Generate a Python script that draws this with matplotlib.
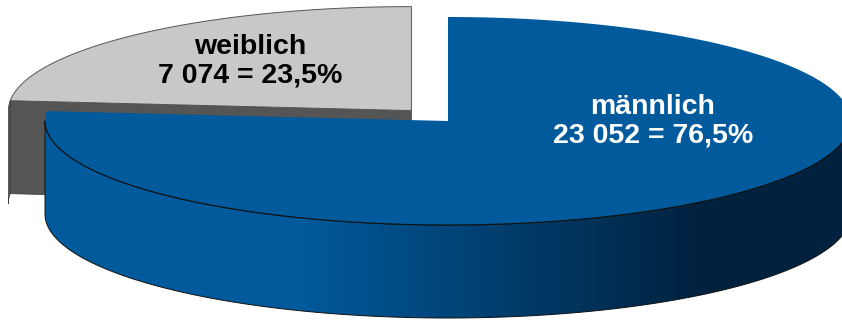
import numpy as np
import matplotlib.pyplot as plt
from matplotlib.patches import Polygon
from matplotlib.colors import to_rgb

labels = ["männlich", "weiblich"]
counts = [23052, 7074]
pct_text = ["76,5%", "23,5%"]
count_text = ["23 052", "7 074"]

top_colors = ["#005a9c", "#c8c8c8"]
side_colors = ["#005a9c", "#555555"]
side_dark = "#00223f"
text_colors = ["white", "black"]

# geometry of the 3D pie (pixel units)
cx, cy = 448, 121
a, b = 403, 104
depth = 93
explode = [0.0, 0.135]

fig = plt.figure(figsize=(8.42, 3.2), dpi=100)
ax = fig.add_axes([0, 0, 1, 1])
ax.axis('off')

total = sum(counts)
sweeps = [360.0 * c / total for c in counts]
# slices go clockwise starting at 12 o'clock
starts = [90.0]
for s in sweeps[:-1]:
    starts.append(starts[-1] - s)


def pt(x0, y0, t, dz=0):
    t = np.radians(t)
    return x0 + a * np.cos(t), y0 - b * np.sin(t) + dz


def arc(x0, y0, t1, t2, dz=0, n=200):
    ts = np.linspace(t1, t2, n)
    xs, ys = pt(x0, y0, ts, dz)
    return np.column_stack([xs, ys])


centers = []
for i, (st, sw) in enumerate(zip(starts, sweeps)):
    mid = np.radians(st - sw / 2)
    centers.append((cx + a * explode[i] * np.cos(mid), cy - b * explode[i] * np.sin(mid)))

# grey slice (back, drawn first): 90 deg -> counter-clockwise
gx, gy = centers[1]
g1, g2 = 90.0, 90.0 + sweeps[1]
end = pt(gx, gy, g2)
face = np.array([[gx, gy], end, [end[0], end[1] + depth], [gx, gy + depth]])
ax.add_patch(Polygon(face, closed=True, fc=side_colors[1], ec="#3a3a3a", lw=0.5))
outer = np.vstack([arc(gx, gy, g2, 180), arc(gx, gy, 180, g2, depth)])
ax.add_patch(Polygon(outer, closed=True, fc=side_colors[1], ec="#3a3a3a", lw=0.5))
top = np.vstack([[gx, gy], arc(gx, gy, g1, g2), [gx, gy]])
ax.add_patch(Polygon(top, closed=True, fc=top_colors[1], ec="#555555", lw=0.7))

# blue slice
bx, by = centers[0]
b1, b2 = starts[0], starts[0] - sweeps[0]
side = np.vstack([arc(bx, by, 180, 360), arc(bx, by, 360, 180, depth)])
side_patch = Polygon(side, closed=True, fc="none", ec="#111111", lw=0.7, zorder=2)
ax.add_patch(side_patch)
xs = np.linspace(bx - a, bx + a, 400)
tt = np.clip((xs - 300) / 400, 0, 1)
c0 = np.array(to_rgb(side_colors[0]))
c1 = np.array(to_rgb(side_dark))
grad = (c0[None, :] * (1 - tt[:, None]) + c1[None, :] * tt[:, None])[None, :, :]
im = ax.imshow(grad, extent=[bx - a, bx + a, by + b + depth + 2, by - 2],
               aspect='auto', zorder=1)
im.set_clip_path(side_patch)

top = np.vstack([[bx, by], arc(bx, by, b1, b2, n=600), [bx, by]])
ax.add_patch(Polygon(top, closed=True, fc=top_colors[0], ec="none", zorder=3))
front = arc(bx, by, 180, 360)
ax.plot(front[:, 0], front[:, 1], color="#111111", lw=0.8, zorder=4)

# labels
label_pos = [(653, 121), (250, 61)]
for i in range(2):
    ax.text(label_pos[i][0], label_pos[i][1],
            f"{labels[i]}\n{count_text[i]} = {pct_text[i]}",
            ha='center', va='center', fontsize=20.5, fontweight='bold',
            family='Liberation Sans', color=text_colors[i], linespacing=1.15,
            zorder=5)

ax.set_xlim(0, 842)
ax.set_ylim(320, 0)
fig.savefig("out.png", dpi=100)
